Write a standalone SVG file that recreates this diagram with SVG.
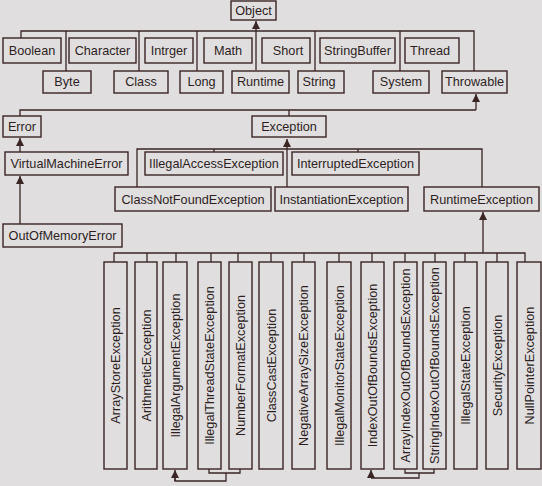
<svg xmlns="http://www.w3.org/2000/svg" width="542" height="486" viewBox="0 0 542 486">
<defs>
<style>
.b{fill:#e0dede;stroke:#3a2424;stroke-width:1.4}
.t{font-family:"Liberation Sans",Arial,sans-serif;font-size:12.7px;fill:#2e1e1e;text-anchor:middle}
.c{fill:none;stroke:#3a2424;stroke-width:1.3}
</style>
<marker id="ah" viewBox="0 0 10 10" refX="10" refY="5" markerWidth="8" markerHeight="8" markerUnits="userSpaceOnUse" orient="auto">
<path d="M0,0 L10,5 L0,10 z" fill="#3a2424"/>
</marker>
</defs>
<rect x="0" y="0" width="542" height="486" fill="#e0dede"/>
<g id="connectors">
<path class="c" d="M21,38 V31 H474 V71"/>
<path class="c" d="M66,31 V71 M139,31 V71 M197,31 V71 M315,31 V71 M400,31 V71"/>
<path class="c" d="M256,70 V21" marker-end="url(#ah)"/>
<path class="c" d="M20,116 V110 H476 M289,110 V116"/>
<path class="c" d="M476,110 V94" marker-end="url(#ah)"/>
<path class="c" d="M20,152 V138" marker-end="url(#ah)"/>
<path class="c" d="M20,224 V176" marker-end="url(#ah)"/>
<path class="c" d="M287,187 V139" marker-end="url(#ah)"/>
<path class="c" d="M137,187 V149 H482 V187 M214,149 V152 M358,149 V152"/>
<path class="c" d="M483,253 V212" marker-end="url(#ah)"/>
<path class="c" d="M114,262 V253 H525 V262 M147,253 V262 M176,253 V262 M211,253 V262 M238,253 V262 M271,253 V262 M304,253 V262 M339,253 V262 M372,253 V262 M405,253 V262 M435,253 V262 M465,253 V262 M497,253 V262"/>
<path class="c" d="M209,469 V473 H240 V469 M226,473 V481 H175 V477"/>
<path class="c" d="M175,481 V470" marker-end="url(#ah)"/>
<path class="c" d="M405,469 V473 H434 V469 M419,473 V478 H371"/>
<path class="c" d="M371,478 V470" marker-end="url(#ah)"/>
</g>
<g id="Object"><rect class="b" x="231" y="1" width="45" height="19"/><text class="t" x="253.5" y="15">Object</text></g>
<g id="Boolean"><rect class="b" x="3" y="38" width="58" height="25"/><text class="t" x="32" y="55">Boolean</text></g>
<g id="Character"><rect class="b" x="69" y="38" width="67" height="25"/><text class="t" x="102.5" y="55">Character</text></g>
<g id="Intrger"><rect class="b" x="145" y="38" width="48" height="25"/><text class="t" x="169" y="55">Intrger</text></g>
<g id="Math"><rect class="b" x="204" y="38" width="48" height="25"/><text class="t" x="228" y="55">Math</text></g>
<g id="Short"><rect class="b" x="262" y="38" width="48" height="25"/><text class="t" x="288" y="55">Short</text></g>
<g id="StringBuffer"><rect class="b" x="320" y="38" width="75" height="25"/><text class="t" x="357.5" y="55">StringBuffer</text></g>
<g id="Thread"><rect class="b" x="405" y="38" width="54" height="25"/><text class="t" x="430" y="55">Thread</text></g>
<g id="Byte"><rect class="b" x="43" y="71" width="48" height="22"/><text class="t" x="67" y="86">Byte</text></g>
<g id="Class"><rect class="b" x="114" y="71" width="54" height="22"/><text class="t" x="141" y="86">Class</text></g>
<g id="Long"><rect class="b" x="180" y="71" width="43" height="22"/><text class="t" x="201.5" y="86">Long</text></g>
<g id="Runtime"><rect class="b" x="232" y="71" width="57" height="22"/><text class="t" x="260.5" y="86">Runtime</text></g>
<g id="String"><rect class="b" x="298" y="71" width="46" height="22"/><text class="t" x="319" y="86">String</text></g>
<g id="System"><rect class="b" x="373" y="71" width="56" height="22"/><text class="t" x="401" y="86">System</text></g>
<g id="Throwable"><rect class="b" x="442" y="71" width="65" height="22"/><text class="t" x="474.5" y="86">Throwable</text></g>
<g id="Error"><rect class="b" x="3" y="116" width="38" height="21"/><text class="t" x="22" y="131">Error</text></g>
<g id="Exception"><rect class="b" x="252" y="116" width="74" height="21"/><text class="t" x="289" y="131">Exception</text></g>
<g id="VirtualMachineError"><rect class="b" x="5" y="152" width="123" height="23"/><text class="t" x="66.5" y="168">VirtualMachineError</text></g>
<g id="IllegalAccessException"><rect class="b" x="145" y="152" width="138" height="23"/><text class="t" x="214" y="168">IllegalAccessException</text></g>
<g id="InterruptedException"><rect class="b" x="292" y="152" width="127" height="23"/><text class="t" x="355.5" y="168">InterruptedException</text></g>
<g id="ClassNotFoundException"><rect class="b" x="115" y="187" width="156" height="24"/><text class="t" x="193" y="204">ClassNotFoundException</text></g>
<g id="InstantiationException"><rect class="b" x="275" y="187" width="133" height="24"/><text class="t" x="341.5" y="204">InstantiationException</text></g>
<g id="RuntimeException"><rect class="b" x="424" y="187" width="115" height="24"/><text class="t" x="481.5" y="204">RuntimeException</text></g>
<g id="OutOfMemoryError"><rect class="b" x="3" y="224" width="119" height="23"/><text class="t" x="62.5" y="240">OutOfMemoryError</text></g>
<g id="ArrayStoreException"><rect class="b" x="104" y="262" width="23" height="207"/><text class="t" transform="translate(120,365.5) rotate(-90)">ArrayStoreException</text></g>
<g id="ArithmeticException"><rect class="b" x="135" y="262" width="22" height="207"/><text class="t" transform="translate(150.5,365.5) rotate(-90)">ArithmeticException</text></g>
<g id="IllegalArgumentException"><rect class="b" x="163" y="262" width="24" height="207"/><text class="t" transform="translate(179.5,365.5) rotate(-90)">IllegalArgumentException</text></g>
<g id="IllegalThreadStateException"><rect class="b" x="198" y="262" width="23" height="207"/><text class="t" transform="translate(214,365.5) rotate(-90)">IllegalThreadStateException</text></g>
<g id="NumberFormatException"><rect class="b" x="229" y="262" width="23" height="207"/><text class="t" transform="translate(245,365.5) rotate(-90)">NumberFormatException</text></g>
<g id="ClassCastException"><rect class="b" x="259" y="262" width="24" height="207"/><text class="t" transform="translate(275.5,365.5) rotate(-90)">ClassCastException</text></g>
<g id="NegativeArraySizeException"><rect class="b" x="292" y="262" width="23" height="207"/><text class="t" transform="translate(308,365.5) rotate(-90)">NegativeArraySizeException</text></g>
<g id="IllegalMonitorStateException"><rect class="b" x="327" y="262" width="24" height="207"/><text class="t" transform="translate(343.5,365.5) rotate(-90)">IllegalMonitorStateException</text></g>
<g id="IndexOutOfBoundsException"><rect class="b" x="361" y="262" width="23" height="207"/><text class="t" transform="translate(377,365.5) rotate(-90)">IndexOutOfBoundsException</text></g>
<g id="ArrayIndexOutOfBoundsException"><rect class="b" x="394" y="262" width="23" height="207"/><text class="t" transform="translate(410,365.5) rotate(-90)">ArrayIndexOutOfBoundsException</text></g>
<g id="StringIndexOutOfBoundsException"><rect class="b" x="423" y="262" width="23" height="207"/><text class="t" transform="translate(439,365.5) rotate(-90)">StringIndexOutOfBoundsException</text></g>
<g id="IllegalStateException"><rect class="b" x="454" y="262" width="23" height="207"/><text class="t" transform="translate(470,365.5) rotate(-90)">IllegalStateException</text></g>
<g id="SecurityException"><rect class="b" x="486" y="262" width="22" height="207"/><text class="t" transform="translate(501.5,365.5) rotate(-90)">SecurityException</text></g>
<g id="NullPointerException"><rect class="b" x="517" y="262" width="24" height="207"/><text class="t" transform="translate(533.5,365.5) rotate(-90)">NullPointerException</text></g>
</svg>
